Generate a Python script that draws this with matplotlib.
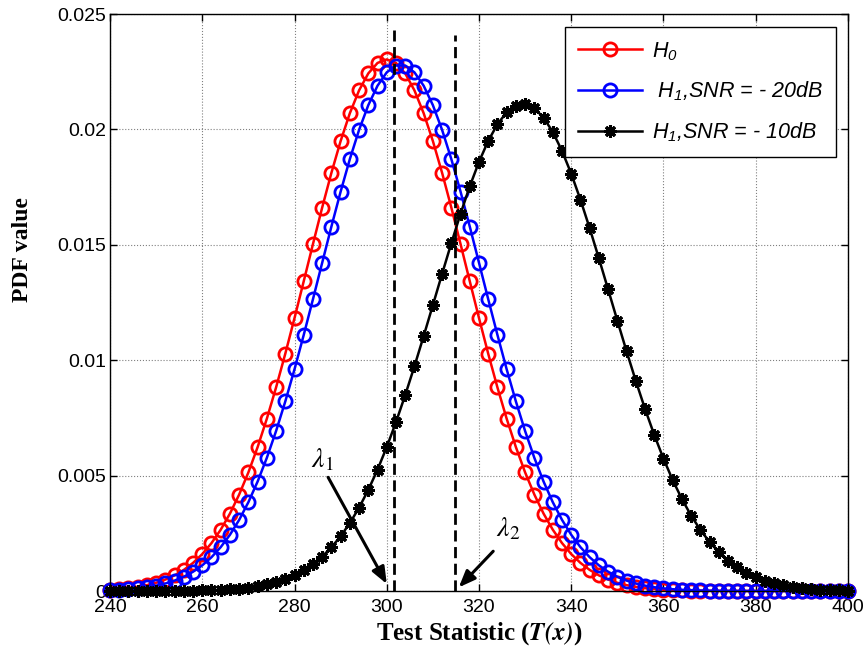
import numpy as np
import matplotlib.pyplot as plt

# test statistic grid (every 2 units)
x = np.arange(240, 401, 2)

h0 = [0.000057, 0.000085, 0.000124, 0.000179, 0.000254, 0.000357, 0.000495, 0.000677, 0.000914, 0.001218,
      0.001600, 0.002076, 0.002656, 0.003354, 0.004180, 0.005139, 0.006235, 0.007465, 0.008819, 0.010281,
      0.011826, 0.013423, 0.015032, 0.016615, 0.018118, 0.019497, 0.020703, 0.021692, 0.022427, 0.022880,
      0.023033, 0.022880, 0.022427, 0.021692, 0.020703, 0.019497, 0.018118, 0.016615, 0.015032, 0.013423,
      0.011826, 0.010281, 0.008819, 0.007465, 0.006235, 0.005139, 0.004180, 0.003354, 0.002656, 0.002076,
      0.001600, 0.001218, 0.000914, 0.000677, 0.000495, 0.000357, 0.000254, 0.000179, 0.000124, 0.000085,
      0.000057, 0.000038, 0.000025, 0.000016, 0.000010, 0.000007, 0.000004, 0.000003, 0.000002, 0.000001,
      0.000001, 0.0, 0.0, 0.0, 0.0, 0.0, 0.0, 0.0, 0.0, 0.0, 0.0]

h1_20db = [0.000035, 0.000052, 0.000077, 0.000113, 0.000163, 0.000232, 0.000325, 0.000451, 0.000617, 0.000834,
           0.001112, 0.001463, 0.001900, 0.002436, 0.003082, 0.003848, 0.004743, 0.005771, 0.006930, 0.008213,
           0.009608, 0.011095, 0.012643, 0.014222, 0.015791, 0.017304, 0.018715, 0.019979, 0.021051, 0.021893,
           0.022473, 0.022769, 0.022769, 0.022473, 0.021893, 0.021051, 0.019979, 0.018715, 0.017304, 0.015791,
           0.014222, 0.012643, 0.011095, 0.009608, 0.008213, 0.006930, 0.005771, 0.004743, 0.003848, 0.003082,
           0.002436, 0.001900, 0.001463, 0.001112, 0.000834, 0.000617, 0.000451, 0.000325, 0.000232, 0.000163,
           0.000113, 0.000077, 0.000052, 0.000035, 0.000023, 0.000015, 0.000010, 0.000006, 0.000004, 0.000002,
           0.000001, 0.000001, 0.0, 0.0, 0.0, 0.0, 0.0, 0.0, 0.0, 0.0, 0.0]

h1_10db = [0.0000003, 0.0000005, 0.0000008, 0.0000012, 0.0000019, 0.0000030, 0.0000047, 0.0000072, 0.0000109, 0.0000164,
           0.0000243, 0.0000357, 0.0000518, 0.0000744, 0.0001056, 0.0001482, 0.0002057, 0.0002824, 0.0003832, 0.0005140,
           0.0006822, 0.0008955, 0.0011617, 0.0014908, 0.0018911, 0.0023725, 0.0029434, 0.0036121, 0.0043824, 0.0052574,
           0.0062369, 0.0073161, 0.0084868, 0.0097358, 0.0110439, 0.0123880, 0.0137404, 0.0150710, 0.0163462, 0.0175324,
           0.0185946, 0.0195015, 0.0202247, 0.0207411, 0.0210336, 0.0210926, 0.0209161, 0.0205100, 0.0198877, 0.0190694,
           0.0180811, 0.0169527, 0.0157175, 0.0144106, 0.0130647, 0.0117125, 0.0103841, 0.0091032, 0.0078907, 0.0067641,
           0.0057339, 0.0048065, 0.0039838, 0.0032659, 0.0026467, 0.0021216, 0.0016814, 0.0013173, 0.0010208, 0.0007826,
           0.0005930, 0.0004444, 0.0003293, 0.0002413, 0.0001749, 0.0001253, 0.0000888, 0.0000622, 0.0000431, 0.0000295,
           0.0000200]

# thresholds
lam1 = 301.5
lam2 = 314.8
lam1_top = 0.0243
lam2_top = 0.0241

plt.rcParams['mathtext.fontset'] = 'custom'
plt.rcParams['mathtext.it'] = 'Liberation Sans:italic'
plt.rcParams['mathtext.rm'] = 'Liberation Sans:italic'

fig = plt.figure(figsize=(8.65, 6.61), dpi=100)
ax = fig.add_axes([0.1272, 0.1059, 0.8531, 0.8729])

ax.plot(x, h0, '-o', color='red', lw=1.8, ms=9.5, mfc='none', mew=2, clip_on=False,
        label=r'$H_{0}$')
ax.plot(x, h1_20db, '-o', color='blue', lw=1.8, ms=9.5, mfc='none', mew=2, clip_on=False,
        label=r' $H_{1}$,SNR = - 20dB')
ax.plot(x, h1_10db, '-', color='black', lw=1.8, marker=(8, 2, 0), ms=9, mew=2.2, clip_on=False,
        label=r'$H_{1}$,SNR = - 10dB')

ax.plot([lam1, lam1], [0, lam1_top], '--', color='black', lw=2, dashes=(4, 2))
ax.plot([lam2, lam2], [0, lam2_top], '--', color='black', lw=2, dashes=(4, 2))

ax.annotate('', xy=(300.3, 0.0002), xytext=(287.0, 0.00503),
            arrowprops=dict(arrowstyle='-|>,head_length=1.0,head_width=0.4', color='black', lw=2.2))
ax.annotate('', xy=(315.2, 0.00007), xytext=(323.5, 0.00181),
            arrowprops=dict(arrowstyle='-|>,head_length=1.0,head_width=0.4', color='black', lw=2.2))
ax.text(286.0, 0.0057, r'$\lambda_{\mathit{1}}$', fontsize=20, ha='center', va='center',
        math_fontfamily='stix')
ax.text(326.3, 0.0027, r'$\lambda_{\mathit{2}}$', fontsize=20, ha='center', va='center',
        math_fontfamily='stix')

ax.set_xlim(240, 400)
ax.set_ylim(0, 0.025)
ax.set_xticks(np.arange(240, 401, 20))
ax.set_yticks([0, 0.005, 0.01, 0.015, 0.02, 0.025])
ax.set_yticklabels(['0', '0.005', '0.01', '0.015', '0.02', '0.025'])
ax.tick_params(direction='in', top=True, right=True, length=5, width=1, labelsize=14)
ax.tick_params(axis='x', pad=6)
ax.tick_params(axis='y', pad=3)
for lab in ax.get_xticklabels() + ax.get_yticklabels():
    lab.set_fontfamily('Liberation Sans')
ax.grid(True, color='#808080', linestyle=':', linewidth=0.8)
for sp in ax.spines.values():
    sp.set_linewidth(1.0)

ax.set_xlabel(r'Test Statistic ($\mathbfit{T(x)}$)', fontsize=18, fontweight='bold',
              family='Liberation Serif', math_fontfamily='stix', labelpad=3)
ax.set_ylabel('PDF value', fontsize=17, fontweight='bold', family='Liberation Serif')
ax.yaxis.set_label_coords(-0.104, 0.591)

leg = ax.legend(loc='upper right', bbox_to_anchor=(0.9837, 0.9775), borderaxespad=0,
                prop={'family': 'Liberation Sans', 'style': 'italic', 'size': 15.5},
                fancybox=False, edgecolor='black', framealpha=1, handlelength=3.0,
                handletextpad=0.45, labelspacing=0.8, borderpad=0.6)
leg.get_frame().set_linewidth(1.0)

plt.savefig('out.png', dpi=100)
